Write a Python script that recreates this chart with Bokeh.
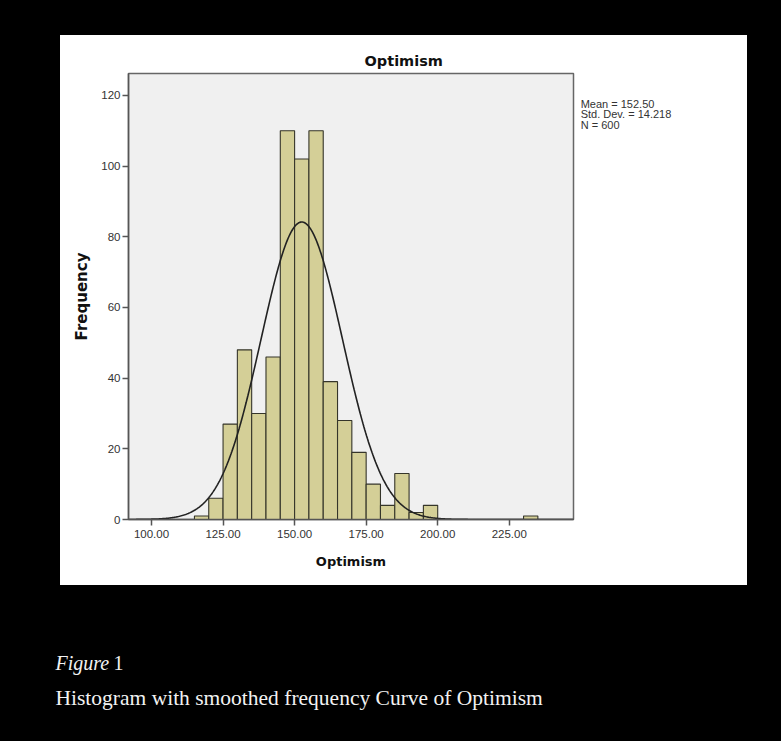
import numpy as np
from bokeh.plotting import figure
from bokeh.models import Range1d, FixedTicker, NumeralTickFormatter, Label, ColumnDataSource, Div
from bokeh.layouts import column, row
from bokeh.embed import file_html
from bokeh.resources import INLINE

# ---- data ----
bin_left = [115, 120, 125, 130, 135, 140, 145, 150, 155, 160, 165, 170, 175, 180, 185, 190, 195, 230]
counts = [1, 6, 27, 48, 30, 46, 110, 102, 110, 39, 28, 19, 10, 4, 13, 2, 4, 1]
bin_width = 5
mean_val = 152.50
sd_val = 14.218
n_val = 600
x_ticks = [100, 125, 150, 175, 200, 225]
y_ticks = [0, 20, 40, 60, 80, 100, 120]
stats_lines = ["Mean = 152.50", "Std. Dev. = 14.218", "N = 600"]
caption_label = "Figure"
caption_number = "1"
caption_title = "Histogram with smoothed frequency Curve of Optimism"

FONT = "Liberation Sans"
BOLD_FONT = "DejaVu Sans"
SERIF = "Liberation Serif"

TOP, BOTTOM, FW, FH = 38, 66, 445, 446

# ---- main chart ----
p = figure(frame_width=FW, frame_height=FH, output_backend="svg", toolbar_location=None,
           x_range=Range1d(91.96, 247.45), y_range=Range1d(0, 126.2),
           min_border_left=68, min_border_right=4, min_border_top=TOP, min_border_bottom=BOTTOM,
           background_fill_color="#F0F0F0", border_fill_color="white",
           outline_line_color="#666666", outline_line_width=1.5)
p.grid.visible = False

src = ColumnDataSource(dict(left=bin_left, right=[b + bin_width for b in bin_left], top=counts,
                            bottom=[0] * len(counts)))
p.quad(left="left", right="right", top="top", bottom="bottom", source=src,
       fill_color="#D4CF97", line_color="#35352A", line_width=1.1)

xs = np.linspace(91.96, 247.45, 500)
ys = n_val * bin_width * np.exp(-0.5 * ((xs - mean_val) / sd_val) ** 2) / (sd_val * np.sqrt(2 * np.pi))
p.line(xs, ys, line_color="#222222", line_width=1.6)

p.xaxis.ticker = FixedTicker(ticks=x_ticks)
p.xaxis.formatter = NumeralTickFormatter(format="0.00")
p.yaxis.ticker = FixedTicker(ticks=y_ticks)
for ax in (p.xaxis, p.yaxis):
    ax.minor_tick_line_color = None
    ax.major_tick_in = 0
    ax.major_tick_out = 6
    ax.major_tick_line_color = "#555555"
    ax.major_tick_line_width = 1.5
    ax.axis_line_color = "#555555"
    ax.axis_line_width = 1.5
    ax.major_label_text_font = FONT
    ax.major_label_text_font_size = "11.5px"
    ax.major_label_text_color = "#333333"
    ax.axis_label_text_font = BOLD_FONT
    ax.axis_label_text_font_style = "bold"
    ax.axis_label_text_color = "#111111"
p.xaxis.axis_label = "Optimism"
p.xaxis.axis_label_text_font_size = "13px"
p.xaxis.major_label_standoff = 4
p.xaxis.axis_label_standoff = 13
p.yaxis.axis_label = "Frequency"
p.yaxis.axis_label_text_font_size = "15px"
p.yaxis.major_label_standoff = 2
p.yaxis.axis_label_standoff = 7

p.title.text = "Optimism"
p.title.align = "left"
p.title.offset = 236
p.title.text_font = BOLD_FONT
p.title.text_font_size = "14.5px"
p.title.text_font_style = "bold"
p.title.text_color = "#111111"

# ---- statistics text (right of the plot area) ----
stats_html = "<br>".join(stats_lines)
stats = Div(text=('<div style="margin:0;padding:63.5px 0 0 3.7px;font-family:\'Liberation Sans\';'
                  'font-size:11px;line-height:10.6px;color:#333333;white-space:nowrap;">'
                  + stats_html + '</div>'),
            width=170, height=550, margin=0,
            styles={"background-color": "white", "overflow": "hidden"})

panel = row(p, stats, spacing=0)
panel.margin = (35, 0, 0, 60)
panel.styles = {"background-color": "white"}

# ---- caption ----
cap = figure(frame_width=781, frame_height=156, output_backend="svg", toolbar_location=None,
             x_range=Range1d(0, 781), y_range=Range1d(156, 0),
             x_axis_type=None, y_axis_type=None, min_border=0,
             background_fill_color="black", border_fill_color="black")
cap.outline_line_color = None
cap.grid.visible = False
cap.add_layout(Label(x=55, y=77, text=caption_label, text_font=SERIF, text_font_style="italic",
                     text_font_size="20px", text_color="#F2F2F2", text_baseline="alphabetic"))
cap.add_layout(Label(x=113, y=77, text=caption_number, text_font=SERIF,
                     text_font_size="20px", text_color="#F2F2F2", text_baseline="alphabetic"))
cap.add_layout(Label(x=55, y=112, text=caption_title,
                     text_font=SERIF, text_font_size="21.5px", text_color="#F2F2F2",
                     text_baseline="alphabetic"))

layout = column(panel, cap, spacing=0)
html = file_html(layout, INLINE)
html = html.replace("</head>", "<style>html,body{background-color:#000000;}</style></head>", 1)
open("out.html", "w").write(html)
